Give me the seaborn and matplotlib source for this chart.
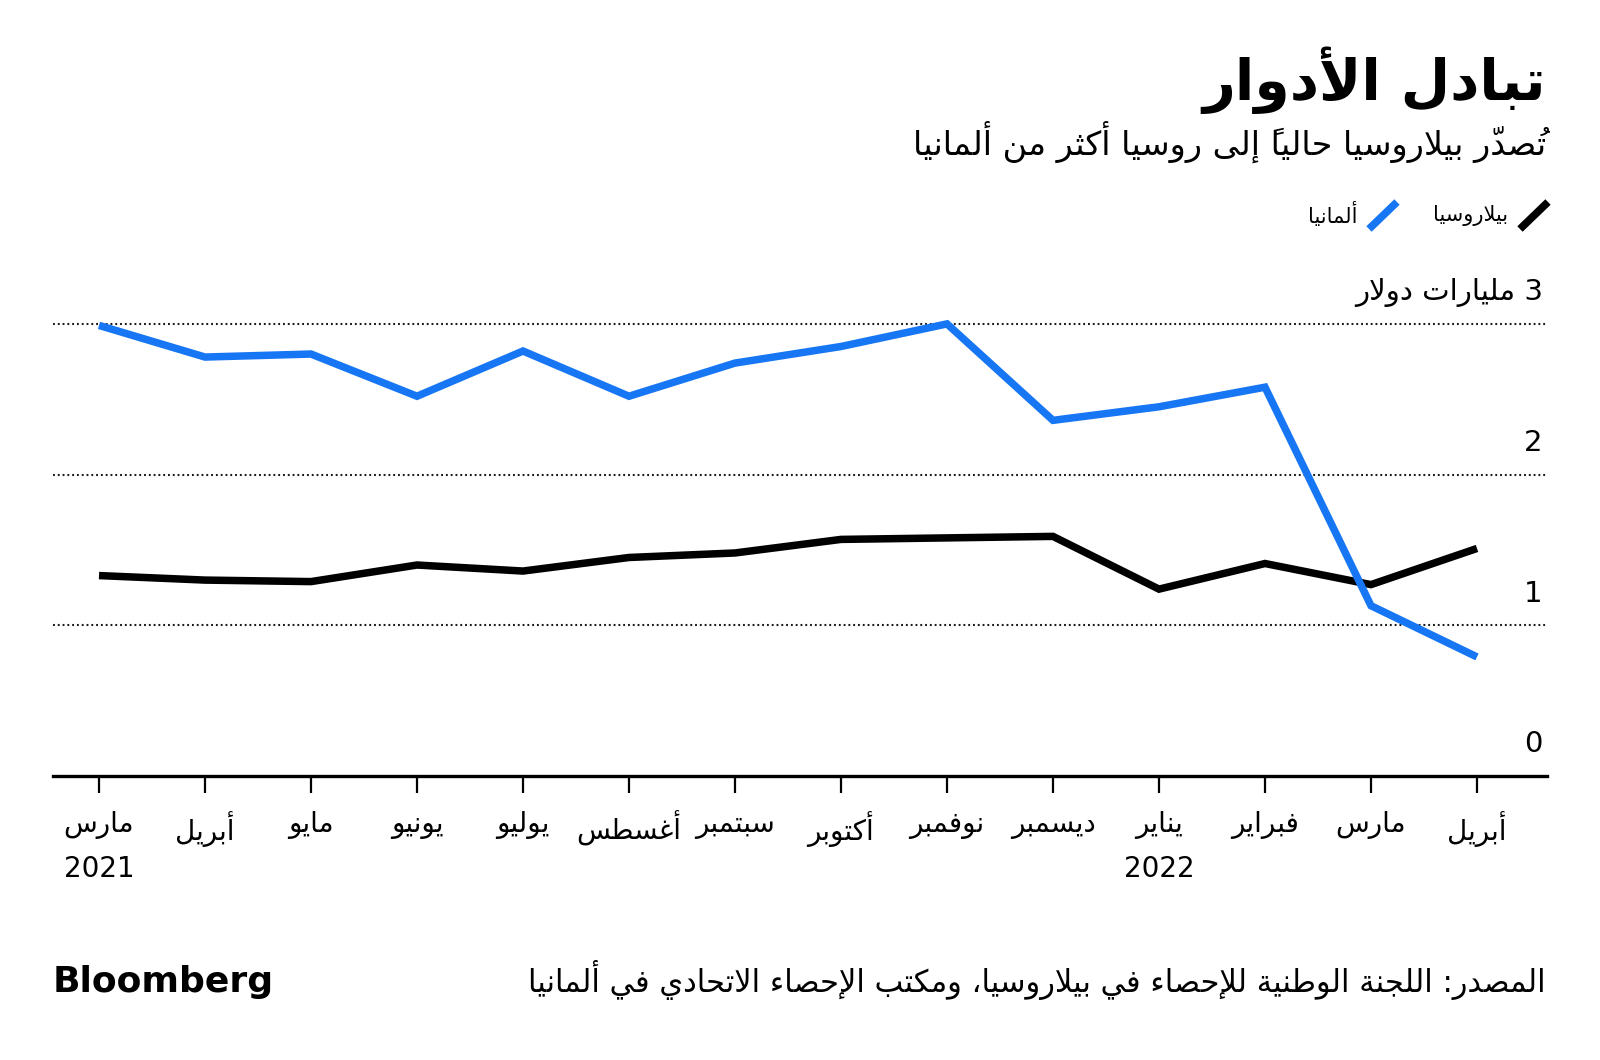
import numpy as np
import pandas as pd
import matplotlib
matplotlib.use("Agg")
import matplotlib.pyplot as plt
import matplotlib.transforms as mtransforms
from matplotlib.lines import Line2D
import seaborn as sns

# ---------------- data ----------------
months = ['مارس', 'أبريل', 'مايو', 'يونيو', 'يوليو', 'أغسطس', 'سبتمبر',
          'أكتوبر', 'نوفمبر', 'ديسمبر', 'يناير', 'فبراير', 'مارس', 'أبريل']
year_labels = ['2021', '', '', '', '', '', '', '', '', '', '2022', '', '', '']
belarus = [1.33, 1.30, 1.29, 1.40, 1.36, 1.45, 1.48, 1.57, 1.58, 1.59, 1.24, 1.41, 1.27, 1.51]
germany = [2.99, 2.78, 2.80, 2.52, 2.82, 2.52, 2.74, 2.85, 3.00, 2.36, 2.45, 2.58, 1.13, 0.79]
series_names = ['بيلاروسيا', 'ألمانيا']
series_colors = ['#000000', '#1676F4']
y_ticks = [0, 1, 2, 3]
y_unit = 'مليارات دولار'
title = 'تبادل الأدوار'
subtitle = 'تُصدّر بيلاروسيا حالياً إلى روسيا أكثر من ألمانيا'
source = 'المصدر: اللجنة الوطنية للإحصاء في بيلاروسيا، ومكتب الإحصاء الاتحادي في ألمانيا'
brand = 'Bloomberg'

# ---------------- Arabic shaping (presentation forms + RTL order) ----------------
DUAL = {'ب': 0xFE8F, 'ت': 0xFE95, 'ث': 0xFE99, 'ج': 0xFE9D, 'ح': 0xFEA1, 'خ': 0xFEA5,
        'س': 0xFEB1, 'ش': 0xFEB5, 'ص': 0xFEB9, 'ض': 0xFEBD, 'ط': 0xFEC1, 'ظ': 0xFEC5,
        'ع': 0xFEC9, 'غ': 0xFECD, 'ف': 0xFED1, 'ق': 0xFED5, 'ك': 0xFED9, 'ل': 0xFEDD,
        'م': 0xFEE1, 'ن': 0xFEE5, 'ه': 0xFEE9, 'ي': 0xFEF1, 'ئ': 0xFE89}
RIGHT = {'ا': 0xFE8D, 'أ': 0xFE83, 'إ': 0xFE87, 'آ': 0xFE81, 'ؤ': 0xFE85, 'د': 0xFEA9,
         'ذ': 0xFEAB, 'ر': 0xFEAD, 'ز': 0xFEAF, 'و': 0xFEED, 'ى': 0xFEEF, 'ة': 0xFE93}
LAMALEF = {'ا': 0xFEFB, 'أ': 0xFEF7, 'إ': 0xFEF9, 'آ': 0xFEF5}
MARKS = set(chr(c) for c in range(0x064B, 0x0653))


def _shape_line(text):
    cl = []
    for ch in text:
        if ch in MARKS and cl:
            cl[-1][1] += ch
        else:
            cl.append([ch, ''])
    merged = []
    i = 0
    while i < len(cl):
        c, m = cl[i]
        if c == 'ل' and i + 1 < len(cl) and cl[i + 1][0] in LAMALEF:
            merged.append(['LA' + cl[i + 1][0], m + cl[i + 1][1]])
            i += 2
        else:
            merged.append([c, m])
            i += 1

    def jt(c):
        if len(c) == 3 and c.startswith('LA'):
            return 'R'
        if c in DUAL:
            return 'D'
        if c in RIGHT:
            return 'R'
        return 'U'

    out = []
    n = len(merged)
    for i, (c, m) in enumerate(merged):
        t = jt(c)
        pt = jt(merged[i - 1][0]) if i > 0 else 'U'
        nt = jt(merged[i + 1][0]) if i < n - 1 else 'U'
        jp = t in ('D', 'R') and pt == 'D'
        jn = t == 'D' and nt in ('D', 'R')
        if t == 'D':
            g = DUAL[c] + (3 if (jp and jn) else 1 if jp else 2 if jn else 0)
            s = chr(g)
        elif t == 'R':
            base = LAMALEF[c[2]] if len(c) == 3 else RIGHT[c]
            s = chr(base + (1 if jp else 0))
        else:
            s = c
        # marks are drawn from the pen position rightwards, so they precede
        # their base letter in visual (left-to-right) order
        out.append(m + s)
    res, run = [], []
    for s in reversed(out):
        if s.isascii() and s.isalnum():
            run.append(s)
        else:
            if run:
                res.extend(reversed(run))
                run = []
            res.append(s)
    if run:
        res.extend(reversed(run))
    return ''.join(res)


def ar(text):
    return '\n'.join(_shape_line(l) for l in text.split('\n'))


# ---------------- figure ----------------
sns.set_theme(style='white')
plt.rcParams['font.family'] = ['DejaVu Sans']

W, H = 1600, 1060
fig = plt.figure(figsize=(16, 10.6), dpi=100)
fig.patch.set_facecolor('white')

y0_px = 776.0
unit_px = 150.7
ytop = 3.3
ax_top_px = y0_px - ytop * unit_px
ax = fig.add_axes([53 / W, (H - y0_px) / H, (1547 - 53) / W, (y0_px - ax_top_px) / H])

df = pd.DataFrame({
    'x': list(range(len(months))) * 2,
    'value': belarus + germany,
    'country': [series_names[0]] * len(belarus) + [series_names[1]] * len(germany),
})
sns.lineplot(data=df, x='x', y='value', hue='country', hue_order=series_names,
             palette=dict(zip(series_names, series_colors)), ax=ax, legend=False,
             linewidth=5.4, sort=False, estimator=None)
for ln in ax.lines:
    ln.set_solid_joinstyle('miter')
    ln.set_solid_capstyle('butt')
    ln.set_clip_on(False)
    ln.set_zorder(3)

x_left = -(99 - 53) / 106.0
x_right = 13 + (1547 - 1477) / 106.0
ax.set_xlim(x_left, x_right)
ax.set_ylim(0, ytop)

for v in y_ticks[1:]:
    ax.axhline(v, color='#1a1a1a', lw=1.5, ls=(0, (0.9, 1.4)), zorder=1)

for s in ['left', 'right', 'top']:
    ax.spines[s].set_visible(False)
ax.spines['bottom'].set_color('black')
ax.spines['bottom'].set_linewidth(2.4)
ax.spines['bottom'].set_zorder(4)

ax.set_xlabel('')
ax.set_ylabel('')
ax.set_yticks([])
ax.set_xticks(range(len(months)))
ax.set_xticklabels([ar(m) + ('\n' + y if y else '') for m, y in zip(months, year_labels)],
                   fontsize=20, linespacing=1.75)
ax.tick_params(axis='x', bottom=True, direction='out', length=12, width=1.6,
               color='black', pad=13, labelcolor='black')

trans = mtransforms.blended_transform_factory(ax.transAxes, ax.transData)
for v in y_ticks:
    lab = str(v) if v != y_ticks[-1] else ar(str(v) + ' ' + y_unit)
    ax.annotate(lab, xy=(1.0, v), xycoords=trans, xytext=(-3, 17),
                textcoords='offset points', ha='right', va='baseline',
                fontsize=21, color='black')

# titles
fig.text(1546 / W, 1 - 100 / H, ar(title), ha='right', va='baseline',
         fontsize=41, fontweight='bold', color='black')
fig.text(1546 / W, 1 - 155 / H, ar(subtitle), ha='right', va='baseline',
         fontsize=24, color='black')

# legend
leg_items = [(1548, 1508), (1397, 1357)]
for (icon_r, text_r), name, col in zip(leg_items, series_names, series_colors):
    fig.add_artist(Line2D([(icon_r - 28) / W, icon_r / W], [1 - 229 / H, 1 - 202 / H],
                          color=col, lw=5.5, solid_capstyle='butt'))
    fig.text(text_r / W, 1 - 215 / H, ar(name), ha='right', va='center',
             fontsize=15, color='black')

# footer
fig.text(53 / W, 1 - 982 / H, brand, ha='left', va='center', fontsize=26,
         fontweight='bold', color='black')
fig.text(1546 / W, 1 - 980 / H, ar(source), ha='right', va='center',
         fontsize=22, color='black')

fig.savefig('out.png', dpi=100, facecolor='white')
